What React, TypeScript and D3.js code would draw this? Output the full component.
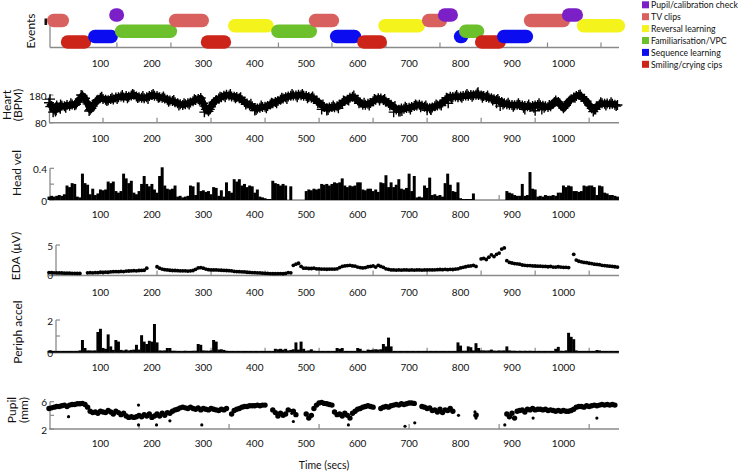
import React from 'react';
import * as d3 from 'd3';

const STEP = 5;

const eventCategories = ['Pupil/calibration check', 'TV clips', 'Reversal learning', 'Familiarisation/VPC', 'Sequence learning', 'Smiling/crying cips'];
const eventColors = ['#7a20c6', '#d8605f', '#f4f41c', '#6bc02c', '#0c0cf0', '#cc2418'];
const eventCat = [1, 5, 4, 0, 3, 1, 5, 2, 3, 1, 4, 5, 2, 1, 0, 4, 3, 5, 4, 1, 0, 2];
const eventStart = [-4, 23, 76, 117, 128, 233, 295, 348, 432, 505, 546, 599, 640, 725, 756, 787, 797, 828, 871, 923, 997, 1026];
const eventEnd = [39, 82, 134, 146, 249, 311, 354, 437, 521, 564, 607, 657, 731, 774, 795, 815, 846, 888, 941, 1013, 1038, 1120];

const timeLabels = [100, 200, 300, 400, 500, 600, 700, 800, 900, 1000];
const eventTicks = [132, 237, 341, 446, 550, 655, 760, 864, 969, 1073];
const tick105 = [105, 210, 315, 420, 525, 630, 735, 840, 945, 1050];
const tick175 = [175, 350, 525, 700, 875, 1050];

const heartBpm = [
  152, 140, 128, 142, 136, 141, 139, 144, 141, 146, 143, 155, 166, 178, 168, 148, 127, 140, 152, 163,
  170, 166, 163, 161, 166, 164, 171, 172, 175, 171, 176, 174, 178, 181, 175, 172, 170, 168, 172, 176,
  180, 177, 176, 172, 170, 167, 163, 160, 158, 154, 150, 147, 144, 147, 150, 153, 157, 162, 166, 169,
  150, 128, 121, 140, 154, 162, 167, 172, 177, 181, 178, 175, 174, 173, 168, 162, 155, 149, 143, 139,
  133, 131, 134, 137, 138, 140, 146, 150, 155, 158, 163, 167, 172, 175, 177, 178, 178, 181, 179, 177,
  176, 173, 170, 167, 160, 152, 143, 137, 132, 135, 137, 136, 139, 145, 151, 158, 163, 170, 174, 168,
  161, 153, 145, 145, 148, 151, 157, 163, 168, 167, 162, 156, 151, 145, 137, 128, 127, 131, 130, 133,
  134, 137, 140, 142, 145, 141, 138, 134, 132, 135, 139, 142, 146, 153, 161, 168, 174, 173, 175, 172,
  175, 176, 178, 177, 180, 179, 181, 180, 178, 176, 173, 170, 168, 165, 162, 158, 155, 150, 147, 145,
  144, 143, 145, 144, 142, 140, 139, 137, 140, 142, 144, 143, 141, 139, 137, 139, 148, 160, 155, 142,
  132, 143, 156, 165, 171, 176, 180, 174, 166, 158, 145, 132, 128, 139, 146, 150, 148, 149, 147, 148, 145, 144,
];
// second interleaved sample set (t = 2.5 + 10k)
const heartBpmB = [
  138, 120, 146, 134, 150, 146, 180, 155, 132, 160,
  174, 158, 170, 166, 180, 168, 184, 169, 176, 166,
  184, 170, 175, 156, 162, 142, 150, 146, 165, 160,
  140, 128, 152, 174, 172, 184, 168, 172, 146, 148,
  126, 142, 132, 152, 150, 170, 166, 184, 172, 184,
  168, 175, 150, 146, 126, 142, 132, 160, 160, 178,
  150, 152, 142, 166, 160, 166, 142, 140, 120, 138,
  128, 146, 136, 142, 126, 146, 142, 170, 166, 180,
  170, 184, 174, 186, 170, 178, 160, 166, 146, 152,
  138, 150, 134, 146, 134, 150, 134, 144, 154, 150,
  138, 160, 170, 182, 158, 140, 128, 154, 142, 154, 140,
];
const heartOutlierT = [8, 14, 22, 78, 302, 400, 530, 540, 670, 680, 686, 735, 742, 776, 834, 870, 877, 925, 945, 958, 1058, 2];
const heartOutlierV = [118, 125, 130, 122, 118, 124, 128, 124, 118, 120, 122, 125, 128, 150, 190, 150, 140, 128, 123, 128, 120, 165];

const headVel = [
  0.03, 0.04, 0.03, 0.04, 0.05, 0.04, 0.06, 0.17, 0.15, 0.2, 0.19, 0.03, 0.02, 0.32, 0.2, 0.18, 0.06, 0.13, 0.05, 0.07,
  0.12, 0.11, 0.12, 0.22, 0.2, 0.22, 0.1, 0.08, 0.1, 0.32, 0.26, 0.2, 0.23, 0.08, 0.06, 0.1, 0.19, 0.29, 0.19, 0.16,
  0.19, 0.12, 0.08, 0.29, 0.4, 0.17, 0.13, 0.12, 0.13, 0.17, 0.03, 0.04, 0.02, 0.03, 0.04, 0.17, 0.16, 0.05, 0.21, 0.1,
  0.11, 0.09, 0.1, 0.06, 0.15, 0.14, 0.04, 0.11, 0.03, 0.21, 0.1, 0.08, 0.25, 0.22, 0.25, 0.17, 0.19, 0.15, 0.17, 0.16,
  0.08, 0.12, 0.03, 0.02, 0.01, 0, 0, 0.23, 0.2, 0.19, 0.17, 0.19, 0.17, null, 0.16, null, null, null, null, null,
  0.1, 0.12, 0.11, 0.13, 0.12, 0.13, 0.19, 0.18, 0.19, 0.17, 0.19, 0.21, 0.2, 0.21, 0.26, 0.17, 0.15, 0.17, 0.16, 0.17,
  0.21, 0.21, 0.12, 0.11, 0.13, 0.13, 0.1, 0.12, 0.09, 0.21, 0.2, 0.3, 0.15, 0.21, 0.15, 0.18, 0.25, 0.13, 0.12, 0.14,
  0.32, 0.1, 0.29, 0.02, 0.03, 0.02, 0.17, 0.14, 0.27, 0.05, 0.06, 0.04, 0.05, 0.03, 0.2, 0.32, 0.18, 0.1, 0.09, 0.21,
  0.01, 0, 0, 0, 0, 0.07, null, null, null, null, null, null, null, null, null, null, null, null, 0.1, 0.08,
  0.07, 0.05, 0.04, 0.04, 0.19, 0.04, 0.05, 0.34, 0.13, 0.12, 0.03, 0.04, 0.03, 0.05, 0.04, 0.04, 0.05, 0.04, 0.08, 0.08,
  0.17, 0.15, 0.17, 0.16, 0.1, 0.1, 0.09, 0.1, 0.17, 0.16, 0.17, 0.17, 0.15, 0.05, 0.17, 0.16, 0.08, 0.07, 0.05, 0.05, 0.04, 0.03,
];

const eda = [
  0.25, 0.22, 0.2, 0.2, 0.18, 0.17, 0.15, 0.15, 0.14, 0.12, 0.12, 0.1, 0.1, null, null, 0.2, 0.22, 0.2, 0.25, 0.22,
  0.3, 0.28, 0.32, 0.3, 0.38, 0.4, 0.42, 0.4, 0.45, 0.42, 0.5, 0.52, 0.55, 0.58, 0.55, 0.6, 0.62, 0.65, 1.0, null,
  null, null, 1.25, 1.0, 0.85, 0.75, 0.7, 0.65, 0.6, 0.6, 0.58, 0.55, 0.55, 0.55, 0.5, 0.55, 0.6, 0.8, 1.05, 1.1,
  1.0, 0.85, 0.75, 0.7, 0.7, 0.7, 0.68, 0.65, 0.62, 0.6, 0.58, 0.55, 0.45, 0.42, 0.4, 0.38, 0.35, 0.3, 0.28, 0.25,
  0.22, 0.2, 0.18, 0.15, 0.12, 0.1, 0.08, 0.06, 0.05, 0.05, 0.08, 0.04, 0.1, 0.25, 0.2, 1.5, 1.7, 1.85, 1.3, 1.0,
  1.0, 0.95, 0.95, 1.0, 0.9, 0.88, 0.85, 0.85, 0.82, 0.85, 0.85, 0.85, 0.9, 1.1, 1.3, 1.4, 1.45, 1.5, 1.4, 1.35,
  1.2, 1.1, 1.05, 1.1, 1.25, 1.3, 1.4, 1.2, 1.5, 1.3, 1.15, 0.9, 0.8, 0.7, 0.7, 0.68, 0.7, 0.68, 0.7, 0.7,
  0.68, 0.7, 0.68, 0.7, 0.7, 0.68, 0.7, 0.7, 0.72, 0.7, 0.72, 0.75, 0.78, 0.75, 0.8, 0.75, 0.8, 0.78, 0.85, 0.9,
  1.05, 1.15, 1.25, 1.35, 1.4, 1.5, 1.3, null, 2.6, 2.7, 2.5, 2.9, 3.3, 3.0, 3.4, 3.6, 4.3, 4.5, 2.3, 2.0,
  1.9, 1.8, 1.75, 1.7, 1.55, 1.5, 1.45, 1.45, 1.4, 1.38, 1.35, 1.35, 1.3, 1.3, 1.25, 1.3, 1.2, 1.2, 1.25, 1.2,
  1.15, 1.15, 1.1, null, 3.4, 2.4, 2.2, 2.1, 2.0, 1.95, 1.85, 1.8, 1.7, 1.65, 1.6, 1.5, 1.45, 1.4, 1.35, 1.3, 1.25, 1.2,
];

const periphAccel = [
  0.02, 0.02, 0.02, 0.02, 0.02, 0.02, 0.02, 0.02, 0.02, 0.02, 0.02, 0.02, 0.05, 0.7, 0.2, 0.05, 0.05, 0.04, 0.05, 1.2,
  1.4, 0.2, 0.15, 1.05, 0.3, 0.08, 0.7, 0.6, 0.08, 0.05, 0.1, 0.05, 0.08, 0.1, 0.4, 0.1, 1.0, 0.6, 0.45, 0.65,
  0.6, 1.7, 0.55, 0.05, 0.04, 0.05, 0.2, 0.2, 0.03, 0.03, 0.02, 0.02, 0.02, 0.03, 0.02, 0.02, 0.03, 0.03, 0.45, 0.4,
  0.05, 0.04, 0.03, 0.05, 0.7, 0.6, 0.1, 0.12, 0.08, 0.03, 0.02, 0.02, 0.02, 0.02, 0.02, 0.02, 0.02, 0.02, 0.02, 0.02,
  0.02, 0.02, 0.02, 0.02, 0.02, 0.02, 0.02, 0.02, 0.15, 0.12, 0.15, 0.1, 0.15, 0.05, 0.08, 0.12, 0.55, 0.1, 0.6, 0.15,
  0.03, 0.05, 0.12, 0.03, 0.02, 0.02, 0.02, 0.02, 0.02, 0.02, 0.02, 0.02, 0.2, 0.15, 0.2, 0.02, 0.02, 0.02, 0.02, 0.02,
  0.2, 0.15, 0.03, 0.02, 0.1, 0.08, 0.1, 0.12, 0.1, 0.12, 0.45, 0.3, 0.85, 0.3, 0.02, 0.02, 0.02, 0.02, 0.02, 0.02,
  0.02, 0.02, 0.02, 0.02, 0.02, 0.02, 0.02, 0.02, 0.02, 0.02, 0.02, 0.02, 0.02, 0.02, 0.02, 0.02, 0.02, 0.02, 0.02, 0.55,
  0.35, 0.03, 0.03, 0.3, 0.25, 0.05, 0.5, 0.2, 0.05, 0.05, 0.04, 0.05, 0.1, 0.04, 0.03, 0.05, 0.04, 0.05, 0.3, 0.05,
  0.03, 0.03, 0.02, 0.03, 0.02, 0.03, 0.02, 0.03, 0.02, 0.02, 0.02, 0.02, 0.02, 0.02, 0.02, 0.02, 0.02, 0.15, 0.27, 0.03,
  0.02, 0.05, 1.15, 0.9, 0.75, 0.05, 0.02, 0.02, 0.02, 0.02, 0.02, 0.02, 0.02, 0.07, 0.05, 0.02, 0.02, 0.02, 0.02, 0.02, 0.02, 0.02,
];

const pupil = [
  5.0, 5.1, 5.2, 5.3, 5.3, 5.4, 5.5, 5.3, 5.5, 5.6, 5.6, 5.7, 5.7, 5.75, 5.6, 5.2, 4.6, 4.4, 4.5, 4.3,
  4.6, 4.5, 4.4, 4.7, 4.5, 4.2, 4.6, 4.4, 4.1, 4.3, 3.9, 3.7, 3.8, 3.7, 3.8, 4.0, 3.8, 4.1, 3.9, 4.2,
  3.7, 3.9, 4.2, 3.9, 4.3, 4.0, 4.4, 4.3, 4.6, 4.8, 4.9, 5.1, 5.2, 5.1, 5.0, 5.2, 5.0, 4.9, 5.1, 4.8,
  5.0, 4.9, 4.8, 5.0, 4.9, 4.8, 4.7, 4.9, 4.8, 5.0, null, 4.2, 4.7, 4.9, 5.0, 5.2, 5.3, 5.3, 5.4, 5.4,
  5.4, 5.5, 5.4, 5.5, 5.5, null, null, 4.8, 4.4, 3.9, 4.3, 4.0, 4.2, 4.8, null, 4.6, 4.1, null, null, null,
  4.2, 3.6, 4.0, 5.0, 5.5, 5.8, 5.9, 5.75, 5.7, 5.6, 5.5, 4.5, 4.1, 4.2, 3.9, 4.3, 4.0, 3.6, 4.3, 4.6,
  4.9, 5.0, 5.2, 5.3, 5.4, 5.3, 5.2, null, null, 5.0, 5.2, 5.3, 5.2, 5.4, 5.5, 5.6, 5.5, 5.7, 5.6, 5.7,
  5.8, 5.8, 5.75, null, null, 5.3, 5.2, 5.0, 5.1, 4.7, 4.8, 4.5, 4.9, 4.4, 4.8, 4.7, 5.0, 4.6, null, null,
  null, null, null, null, null, null, 4.0, null, null, null, null, null, null, null, null, null, null, null, 4.2, 3.8,
  4.3, 3.6, 4.6, 4.7, 4.8, 4.5, 4.9, 4.8, 5.0, 4.8, 4.9, 4.9, 4.8, 4.9, 4.7, 4.8, 4.7, 4.6, 4.7, 4.6,
  4.7, 4.6, 4.6, 4.7, 4.9, 5.2, 5.3, 5.3, 5.2, 5.4, 5.3, 5.4, 5.5, 5.4, 5.5, 5.6, 5.5, 5.6, 5.5, 5.6, 5.5, null,
];
const pupilOutlierT = [38, 174, 174, 209, 235, 297, 470, 472, 475, 582, 692, 711, 796, 828, 830, 832, 886, 941, 1065];
const pupilOutlierV = [3.8, 5.5, 2.6, 2.6, 3.2, 2.6, 4.7, 4.3, 3.1, 2.6, 2.4, 2.9, 4.0, 4.5, 3.6, 4.2, 2.6, 3.6, 3.6];

const FONT = 'Lato, "Open Sans", sans-serif';
const AXIS = '#8a8a8a';
const INK = '#111';

const x = d3.scaleLinear().domain([0, 1108]).range([49, 619]);

function series(arr: (number | null)[], offset = 0, step = STEP) {
  return arr.map((v, i) => ({ t: offset + i * step, v })).filter((d) => d.v !== null) as { t: number; v: number }[];
}

function XAxis({ y, ticks, labelY, x0 = 49 }: { y: number; ticks: number[]; labelY: number; x0?: number }) {
  return (
    <g>
      <line x1={x0} x2={619} y1={y} y2={y} stroke={AXIS} strokeWidth={1.4} />
      {ticks.map((t) => (
        <line key={t} x1={x(t)} x2={x(t)} y1={y} y2={y - 5} stroke={AXIS} strokeWidth={1.2} />
      ))}
      {timeLabels.map((t) => (
        <text key={t} x={x(t)} y={labelY} textAnchor="middle" dominantBaseline="central" fontSize={10} fill={INK} fontFamily={FONT}>
          {t}
        </text>
      ))}
    </g>
  );
}

function YAxis({ ax, y, ticks, labels, base }: { ax: number; y: d3.ScaleLinear<number, number>; ticks: number[]; labels: { v: number; s: string }[]; base: number }) {
  const top = d3.min(ticks.map((t) => y(t))) as number;
  return (
    <g>
      <line x1={ax} x2={ax} y1={top} y2={base} stroke={AXIS} strokeWidth={1.3} />
      {ticks.map((t) => (
        <line key={t} x1={ax} x2={ax + 4} y1={y(t)} y2={y(t)} stroke={AXIS} strokeWidth={1.2} />
      ))}
      {labels.map((l) => (
        <text key={l.s} x={ax - 3} y={y(l.v) + 0.5} textAnchor="end" dominantBaseline="central" fontSize={10} fill={INK} fontFamily={FONT}>
          {l.s}
        </text>
      ))}
    </g>
  );
}

function VLabel({ lines, cy }: { lines: { s: string; x: number }[]; cy: number }) {
  return (
    <g>
      {lines.map((l) => (
        <text key={l.s} transform={`translate(${l.x},${cy}) rotate(-90)`} textAnchor="middle" dominantBaseline="central" fontSize={12} fill={INK} fontFamily={FONT}>
          {l.s}
        </text>
      ))}
    </g>
  );
}

export default function App() {
  const rowY = d3.scalePoint<number>().domain(d3.range(eventCategories.length)).range([15, 42]);
  const barH = 13.5;

  const yHeart = d3.scaleLinear().domain([80, 180]).range([122.7, 95]);
  const yHead = d3.scaleLinear().domain([0, 0.4]).range([200, 168.3]);
  const yEda = d3.scaleLinear().domain([0, 5]).range([274, 245]);
  const yPer = d3.scaleLinear().domain([0, 2]).range([352, 320]);
  const yPup = d3.scaleLinear().domain([2, 6]).range([429, 401.7]);

  const heart = series(heartBpm);
  const heartB = series(heartBpmB, 2.5, 10);
  const heartAll = [...heart, ...heartB].sort((a, b) => a.t - b.t);
  const heartLine = d3.line<{ t: number; v: number }>().x((d) => x(d.t)).y((d) => yHeart(d.v));
  const head = series(headVel);
  const ed = series(eda);
  const per = series(periphAccel);
  const pup = series(pupil);
  const bw = x(STEP) - x(0) + 0.4;

  const cross = (cx: number, cy: number, k: string) => (
    <path key={k} d={`M${cx - 5},${cy}H${cx + 5}M${cx},${cy - 5}V${cy + 5}`} stroke="#000" strokeWidth={1.4} />
  );

  return (
    <svg width={740} height={473} style={{ position: 'absolute', left: 0, top: 0, background: '#fff' }}>
      {/* Events */}
      <line x1={50} x2={50} y1={20} y2={47.5} stroke={AXIS} strokeWidth={1.3} />
      <rect x={44.5} y={18.5} width={2.6} height={6.5} fill="#111" />
      <XAxis y={47.5} ticks={eventTicks} labelY={63} x0={50} />
      {eventCat.map((c, i) => {
        const x0 = x(eventStart[i]);
        const x1 = x(eventEnd[i]);
        const w = Math.max(x1 - x0, barH);
        return (
          <rect key={i} x={x0} y={(rowY(c) as number) - barH / 2} width={w} height={barH} rx={barH / 2} ry={barH / 2} fill={eventColors[c]} />
        );
      })}
      <VLabel lines={[{ s: 'Events', x: 30 }]} cy={31} />

      {/* Legend */}
      {eventCategories.map((c, i) => (
        <g key={c}>
          <rect x={642} y={1.3 + i * 11.9} width={7} height={7} fill={eventColors[i]} />
          <text x={651} y={4.9 + i * 11.9} dominantBaseline="central" fontSize={8.7} fill={INK} fontFamily={FONT}>
            {c}
          </text>
        </g>
      ))}

      {/* Heart */}
      <XAxis y={122.7} ticks={tick105} labelY={138} />
      <YAxis ax={49.5} y={yHeart} ticks={[80, 180]} labels={[{ v: 180, s: '180' }, { v: 80, s: '80' }]} base={122.7} />
      <path d={heartLine(heart) as string} fill="none" stroke="#000" strokeWidth={6.5} strokeLinejoin="round" />
      <path d={heartLine(heartAll) as string} fill="none" stroke="#000" strokeWidth={2.5} strokeLinejoin="round" />
      {heart.map((d, i) => cross(x(d.t), yHeart(d.v), 'h' + i))}
      {heartB.map((d, i) => cross(x(d.t), yHeart(d.v), 'b' + i))}
      {heartOutlierT.map((t, i) => cross(x(t), yHeart(heartOutlierV[i]), 'o' + i))}
      <VLabel lines={[{ s: 'Heart', x: 6.5 }, { s: '(BPM)', x: 17 }]} cy={105} />

      {/* Head vel */}
      <XAxis y={200} ticks={tick175} labelY={213.5} />
      <YAxis ax={50} y={yHead} ticks={[0, 0.2, 0.4]} labels={[{ v: 0.4, s: '0.4' }, { v: 0, s: '0' }]} base={200} />
      {head.map((d, i) => (
        <rect key={i} x={x(d.t) - bw / 2} y={yHead(d.v) - 1} width={bw} height={200 - yHead(d.v) + 1} fill="#000" />
      ))}
      <VLabel lines={[{ s: 'Head vel', x: 16 }]} cy={173} />

      {/* EDA */}
      <XAxis y={275.5} ticks={tick105} labelY={291.7} />
      <YAxis ax={56} y={yEda} ticks={[0, 5]} labels={[{ v: 5, s: '5' }, { v: 0, s: '0' }]} base={275.5} />
      {ed.map((d, i) => (
        <circle key={i} cx={x(d.t)} cy={yEda(d.v)} r={1.9} fill="#000" />
      ))}
      <VLabel lines={[{ s: 'EDA (\u03bcV)', x: 15 }]} cy={256} />

      {/* Periph accel */}
      <XAxis y={352.7} ticks={tick105} labelY={366.7} />
      <YAxis ax={56} y={yPer} ticks={[0, 1, 2]} labels={[{ v: 2, s: '2' }, { v: 0, s: '0' }]} base={352.7} />
      {per.map((d, i) => (
        <rect key={i} x={x(d.t) - bw / 2} y={yPer(d.v) - 0.8} width={bw} height={352.7 - yPer(d.v) + 0.8} fill="#000" />
      ))}
      <VLabel lines={[{ s: 'Periph accel', x: 17 }]} cy={332} />

      {/* Pupil */}
      <XAxis y={429} ticks={tick175} labelY={443.3} />
      <YAxis ax={50} y={yPup} ticks={[2, 4, 6]} labels={[{ v: 6, s: '6' }, { v: 2, s: '2' }]} base={429} />
      {pup.map((d, i) => (
        <circle key={i} cx={x(d.t)} cy={yPup(d.v)} r={2.7} fill="#000" />
      ))}
      {pupilOutlierT.map((t, i) => (
        <circle key={'p' + i} cx={x(t)} cy={yPup(pupilOutlierV[i])} r={1.6} fill="#000" />
      ))}
      <VLabel lines={[{ s: 'Pupil', x: 11.5 }, { s: '(mm)', x: 23 }]} cy={410} />

      <text x={324} y={465} textAnchor="middle" dominantBaseline="central" fontSize={10.5} fill={INK} fontFamily={FONT}>
        Time (secs)
      </text>
    </svg>
  );
}
